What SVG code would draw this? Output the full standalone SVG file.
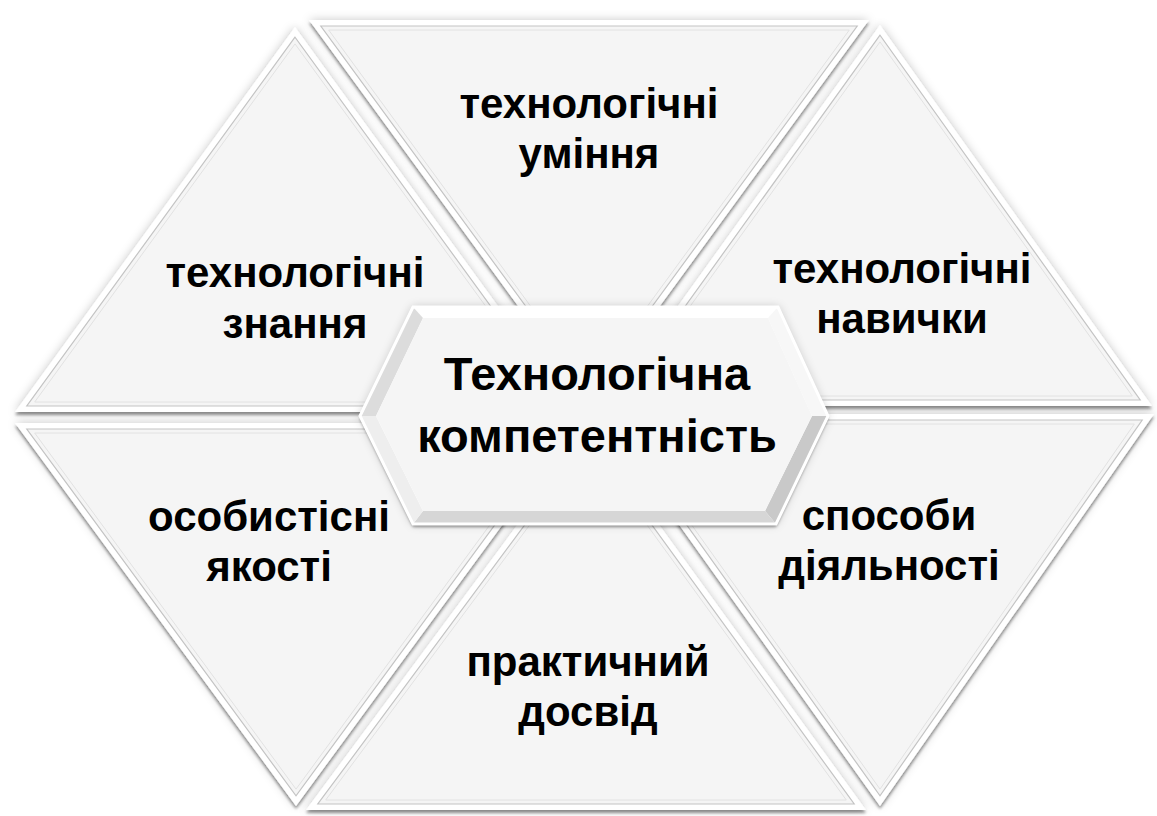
<svg xmlns="http://www.w3.org/2000/svg" width="1157" height="816" viewBox="0 0 1157 816">
<style>
  .frame{fill:#ffffff;filter:url(#soft)}
  .face{fill:#f5f5f5;stroke:#c4c4c4;stroke-width:1.2}
  .groove{fill:none;stroke:#e2e2e2;stroke-width:1}
  .lbl{font-family:"Liberation Sans",Arial,sans-serif;font-weight:bold;font-size:42px;fill:#000000;text-anchor:middle}
  .title{font-size:47px}
</style>
<defs>
  <!-- soft outer glow plus a short drop shadow under each tile -->
  <filter id="soft" x="-10%" y="-10%" width="120%" height="120%">
    <feGaussianBlur in="SourceAlpha" stdDeviation="5" result="b1"/>
    <feFlood flood-color="#000000" flood-opacity="0.22"/>
    <feComposite in2="b1" operator="in" result="s1"/>
    <feGaussianBlur in="SourceAlpha" stdDeviation="1.6" result="b2"/>
    <feOffset in="b2" dx="0" dy="2.5" result="o2"/>
    <feFlood flood-color="#000000" flood-opacity="0.4"/>
    <feComposite in2="o2" operator="in" result="s2"/>
    <feMerge><feMergeNode in="s1"/><feMergeNode in="s2"/><feMergeNode in="SourceGraphic"/></feMerge>
  </filter>
</defs>
<rect width="1157" height="816" fill="#ffffff"/>

<g id="knowledge">
  <polygon class="frame" points="295,27 15,412 575,412"/>
  <polygon class="face" points="295,37.2 26.8,406 563.2,406"/>
  <polygon class="groove" points="295,43.9 34.7,402 555.3,402"/>
  <text class="lbl" x="295" y="287">технологічні</text>
  <text class="lbl" x="295" y="338">знання</text>
</g>

<g id="abilities">
  <polygon class="frame" points="309,20 869,20 589,403"/>
  <polygon class="face" points="320.8,26 857.2,26 589,392.8"/>
  <polygon class="groove" points="328.7,30 849.3,30 589,386.1"/>
  <text class="lbl" x="589" y="118">технологічні</text>
  <text class="lbl" x="589" y="168">уміння</text>
</g>

<g id="skills">
  <polygon class="frame" points="880,25 606,406 1152,406"/>
  <polygon class="face" points="880,35.2 617.8,400 1140.2,400"/>
  <polygon class="groove" points="880,41.9 625.7,396 1132.3,396"/>
  <text class="lbl" x="902" y="283">технологічні</text>
  <text class="lbl" x="902" y="333">навички</text>
</g>

<g id="qualities">
  <polygon class="frame" points="15,423 577,423 296,806"/>
  <polygon class="face" points="26.8,429 565.2,429 296,795.8"/>
  <polygon class="groove" points="34.7,433 557.3,433 296,789.1"/>
  <text class="lbl" x="269" y="531">особистісні</text>
  <text class="lbl" x="269" y="581">якості</text>
</g>

<g id="experience">
  <polygon class="frame" points="589,428 306,810 866,810"/>
  <polygon class="face" points="589,438.2 317.8,804 854.2,804"/>
  <polygon class="groove" points="589,444.9 325.7,800 846.3,800"/>
  <text class="lbl" x="588" y="676">практичний</text>
  <text class="lbl" x="588" y="726">досвід</text>
</g>

<g id="methods">
  <polygon class="frame" points="600,414 1154,414 880,806"/>
  <polygon class="face" points="611.8,420 1142.2,420 880,795.8"/>
  <polygon class="groove" points="619.7,424 1134.3,424 880,789.1"/>
  <text class="lbl" x="889" y="530">способи</text>
  <text class="lbl" x="889" y="580">діяльності</text>
</g>

<g id="competence">
  <polygon class="frame" points="360,416 413,307 778,307 828,416 776,524 413,524"/>
  <!-- bevelled rim, one face per side -->
  <polygon fill="#ffffff" points="413,307 778,307 768,318 423,318"/>
  <polygon fill="#f7f7f7" points="778,307 828,416 812,416 768,318"/>
  <polygon fill="#c9c9c9" points="828,416 776,524 765,511 812,416"/>
  <polygon fill="#d6d6d6" points="776,524 413,524 423,511 765,511"/>
  <polygon fill="#eeeeee" points="413,524 360,416 376,416 423,511"/>
  <polygon fill="#dcdcdc" points="360,416 413,307 423,318 376,416"/>
  <polygon fill="none" stroke="#ffffff" stroke-width="3" points="360,416 413,307 778,307 828,416 776,524 413,524"/>
  <polygon fill="#f5f5f5" points="376,416 423,318 768,318 812,416 765,511 423,511"/>
  <text class="lbl title" x="597" y="390">Технологічна</text>
  <text class="lbl title" x="597" y="452">компетентність</text>
</g>
</svg>
